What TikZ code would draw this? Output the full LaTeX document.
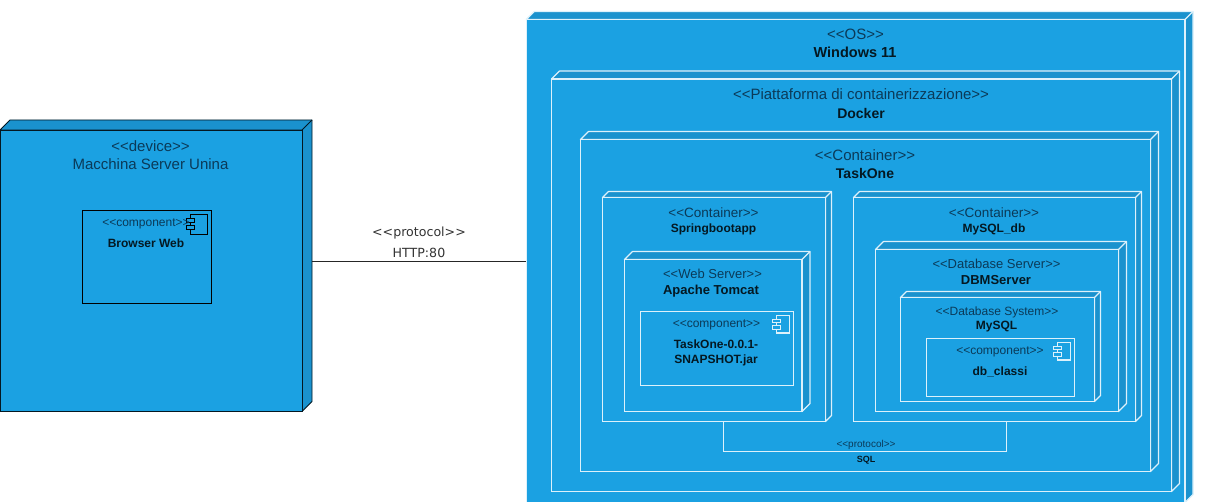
\documentclass[tikz,border=0pt]{standalone}
\usepackage{fontspec}
\setmainfont{Liberation Sans}
\newfontfamily\protofont{DejaVu Sans}
\definecolor{nodeblue}{HTML}{1BA1E2}
\definecolor{sideblue}{HTML}{1A92CE}
\definecolor{inkblue}{HTML}{0B3A58}
\colorlet{edgedark}{black!85!nodeblue}
\colorlet{edgelight}{white!85!nodeblue}
\newcommand{\edgew}{1.2pt}
\tikzset{
  cubeface/.style={rectangle,draw=#1,fill=nodeblue,line width=\edgew,inner sep=0pt,outer sep=0pt,anchor=north west},
  cubeside/.style={draw=#1,fill=sideblue,line width=\edgew,line join=round},
  stereo/.style={inner sep=0pt,yshift=-0.8pt,text=inkblue,font=\fontsize{#1}{#1}\selectfont},
  title/.style={inner sep=0pt,yshift=-1pt,text=black!85!nodeblue,font=\fontsize{#1}{#1}\selectfont\bfseries},
  proto/.style={inner sep=0pt,yshift=-1pt,text=black!80,font=\fontsize{12.6}{12.6}\selectfont\protofont},
  link/.style={draw=#1,line width=\edgew}
}
% box with a top and a side face
\newcommand{\cube}[7]{
\draw[cubeside=#7](#2,#3)--(#2+#6,#3-#6)--(#4+#6,#3-#6)--(#4+#6,#5-#6)--(#4,#5)--(#4,#3)--cycle;
\draw[draw=#7,line width=\edgew](#4,#3)--(#4+#6,#3-#6);
\pgfmathsetmacro{\boxw}{#4-#2}\pgfmathsetmacro{\boxh}{#5-#3}
\node[cubeface=#7,minimum width=\boxw pt,minimum height=\boxh pt](#1)at(#2,#3){};}
% component box with its icon, #6 and #7 are the icon size
\newcommand{\comp}[8]{
\pgfmathsetmacro{\boxw}{#4-#2}\pgfmathsetmacro{\boxh}{#5-#3}
\node[cubeface=#8,minimum width=\boxw pt,minimum height=\boxh pt](#1)at(#2,#3){};
\begin{scope}[shift={(#4-4,#3+4)},line width=\edgew]
\draw[draw=#8](-#6,0)rectangle(0,#7);
\draw[draw=#8,fill=nodeblue](-#6-4,0.21*#7)rectangle++(8,0.21*#7);
\draw[draw=#8,fill=nodeblue](-#6-4,0.58*#7)rectangle++(8,0.21*#7);
\end{scope}}
\begin{document}
\begin{tikzpicture}[x=1pt,y=-1pt]
\useasboundingbox[fill=white](0,0)rectangle(1219,502);
% left device
\renewcommand{\edgew}{0.85pt}
\cube{device}{0}{130}{302}{411.5}{10}{edgedark}
\node[stereo=15](devicest)at(150.5,145){<{}<device>{}>};
\node[stereo=15](devicename)at(150.5,163){Macchina Server Unina};
\comp{browser}{82}{210}{211}{303}{16.5}{20}{black}
\node[stereo=12](browserst)at(146,223){<{}<component>{}>};
\node[title=12](browsername)at(146,242){Browser Web};
\path(device.east)++(10,-9.75)coordinate(httpfrom);
% right side, one box in the other
\renewcommand{\edgew}{1.2pt}
\cube{windows}{526.3}{19.5}{1185}{502.5}{8}{edgelight}
\node[stereo=15](windowsst)at(855.5,33.5){<{}<OS>{}>};
\node[title=14.5](windowsname)at(855,51.5){Windows 11};
\cube{docker}{551.5}{79}{1171.5}{491.5}{8}{edgelight}
\node[stereo=15](dockerst)at(861,93){<{}<Piattaforma di containerizzazione>{}>};
\node[title=14](dockername)at(861,112){Docker};
\cube{taskone}{580.5}{139.5}{1150.5}{471.5}{8}{edgelight}
\node[stereo=15](taskonest)at(865,154){<{}<Container>{}>};
\node[title=14](taskonename)at(865,172){TaskOne};
\cube{spring}{602.5}{197.5}{825.5}{421.5}{6}{edgelight}
\node[stereo=13.5](springst)at(713.5,211.5){<{}<Container>{}>};
\node[title=12](springname)at(713.5,228){Springbootapp};
\cube{tomcat}{624.5}{259.5}{802}{411.5}{8}{edgelight}
\node[stereo=13](tomcatst)at(712.5,273.5){<{}<Web Server>{}>};
\node[title=13](tomcatname)at(711,290){Apache Tomcat};
\comp{jar}{640.5}{311.5}{793.5}{385.5}{13}{17.5}{edgelight}
\node[stereo=12](jarst)at(716.5,324.5){<{}<component>{}>};
\node[title=12,align=center,font=\fontsize{12}{14.5}\selectfont\bfseries](jarname)at(716,352){TaskOne-0.0.1-\\SNAPSHOT.jar};
\cube{mysqldb}{853.5}{197.5}{1135.5}{421.5}{6}{edgelight}
\node[stereo=13.5](mysqldbst)at(994,211.5){<{}<Container>{}>};
\node[title=12](mysqldbname)at(994,228){MySQL\_db};
\cube{dbms}{875.5}{249.5}{1118.5}{411.5}{8}{edgelight}
\node[stereo=13](dbmsst)at(996.5,263){<{}<Database Server>{}>};
\node[title=13](dbmsname)at(996,279){DBMServer};
\cube{mysql}{900.5}{297.5}{1094.5}{401.5}{6}{edgelight}
\node[stereo=12](mysqlst)at(997,312){<{}<Database System>{}>};
\node[title=12](mysqlname)at(996.5,326){MySQL};
\comp{classi}{926.5}{338.5}{1074.5}{396.5}{13}{17.5}{edgelight}
\node[stereo=12](classist)at(1000,351.5){<{}<component>{}>};
\node[title=12](classiname)at(1000,371){db\_classi};
% links
\draw[link=edgelight]([xshift=9.5pt]spring.south)--++(0,30)-|([xshift=12pt]mysqldb.south);
\node[stereo=10](sqlst)at(866,444.5){<{}<protocol>{}>};
\node[title=9](sqlname)at(866,459){SQL};
\renewcommand{\edgew}{0.85pt}
\draw[link=black!85](httpfrom)--(windows.west);
\node[proto](httpst)at(419,232.5){<{}<protocol>{}>};
\node[proto](httpname)at(419,252){HTTP:80};
\end{tikzpicture}
\end{document}
